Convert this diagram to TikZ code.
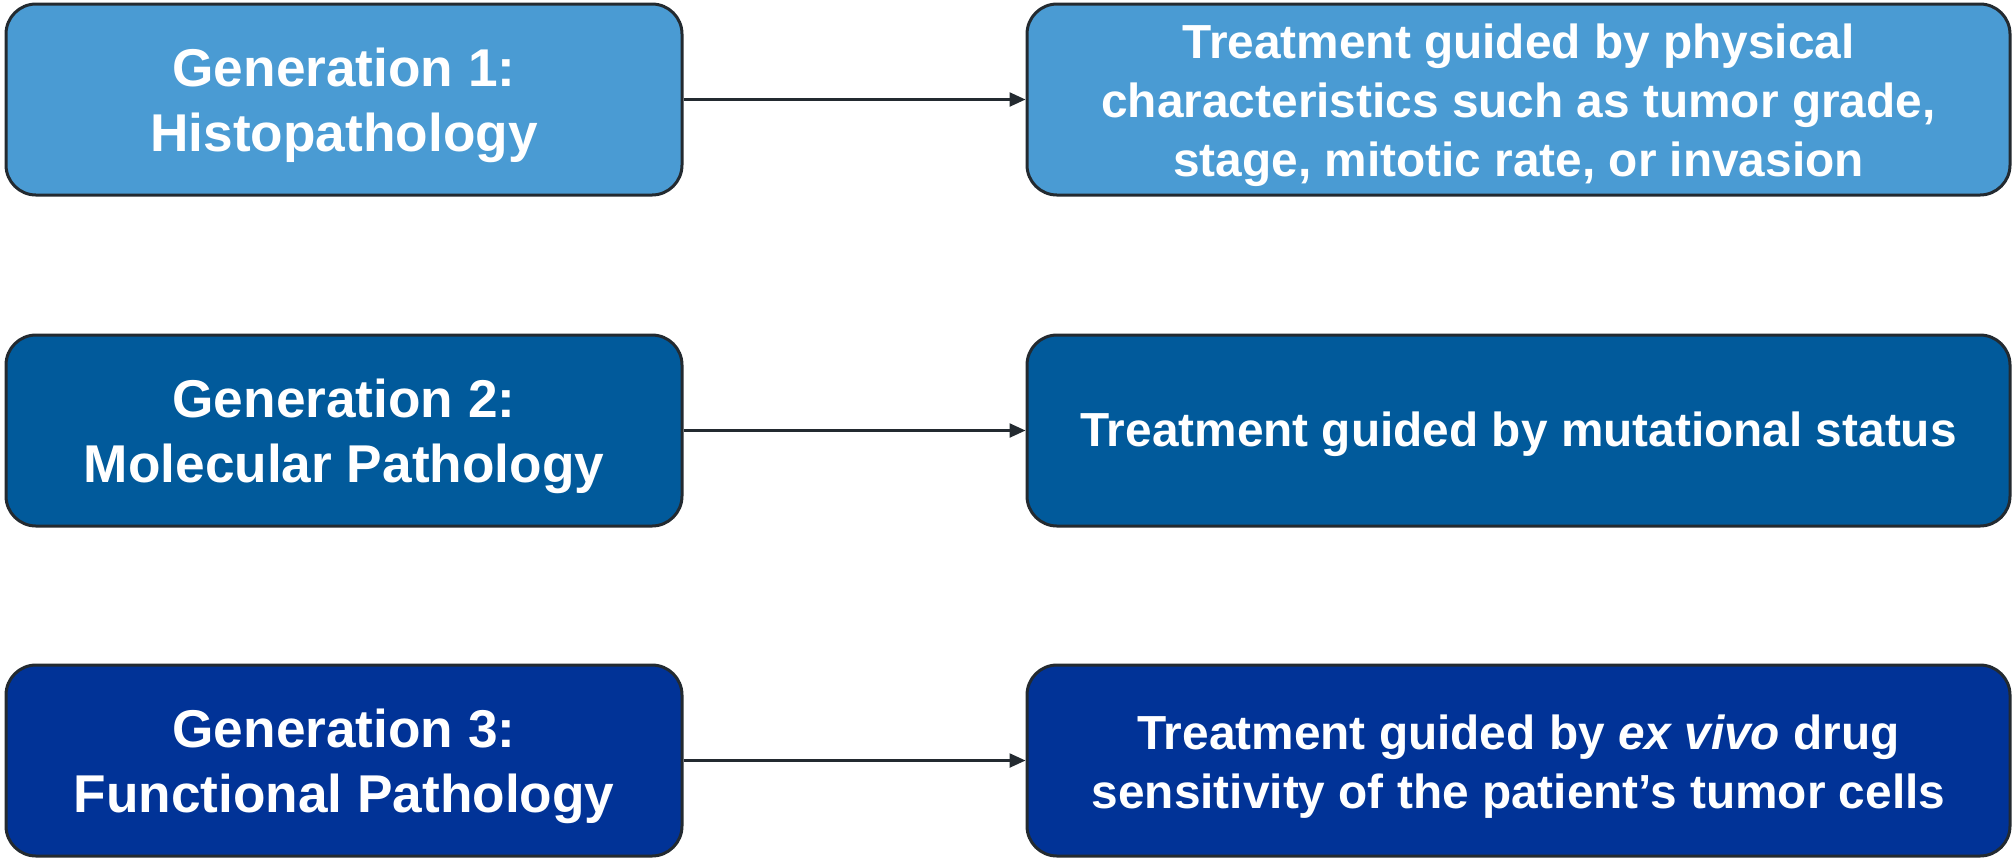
\documentclass[tikz,border=0pt]{standalone}
\usepackage{fontspec}
\setmainfont{Liberation Sans}
\usetikzlibrary{arrows.meta}
\definecolor{rowa}{RGB}{74,155,211}
\definecolor{rowb}{RGB}{1,90,155}
\definecolor{rowc}{RGB}{1,51,151}
\definecolor{edge}{RGB}{35,42,48}
\tikzset{
  box/.style={draw=edge, line width=1.5pt, rounded corners=15pt},
  leftbox/.style={box, minimum width=338pt, minimum height=95.5pt},
  rightbox/.style={box, minimum width=491.5pt, minimum height=95.5pt},
  lefttext/.style={text=white, align=center, font=\fontsize{26.6}{32.5}\selectfont\bfseries},
  righttext/.style={text=white, align=center, font=\fontsize{23.9}{29.4}\selectfont\bfseries},
  conn/.style={draw=edge, line width=1.2pt, -{Triangle[length=8pt,width=7pt]}}
}
\begin{document}
\begin{tikzpicture}[x=0.5pt,y=-0.5pt]
\useasboundingbox (0,0) rectangle (2013,859);
\node[leftbox, fill=rowa] (g1) at (344,99.5) {};
\node[rightbox, fill=rowa] (t1) at (1518.5,99.5) {};
\node[leftbox, fill=rowb] (g2) at (344,430.5) {};
\node[rightbox, fill=rowb] (t2) at (1518.5,430.5) {};
\node[leftbox, fill=rowc] (g3) at (344,760.5) {};
\node[rightbox, fill=rowc] (t3) at (1518.5,760.5) {};
\node[lefttext] (g1t) at ([yshift=-3pt]g1.center) {Generation 1:\\Histopathology};
\node[righttext] (t1t) at ([yshift=-3pt]t1.center) {Treatment guided by physical\\characteristics such as tumor grade,\\stage, mitotic rate, or invasion};
\node[lefttext] (g2t) at ([yshift=-3pt]g2.center) {Generation 2:\\Molecular Pathology};
\node[righttext] (t2t) at ([yshift=-2pt]t2.center) {Treatment guided by mutational status};
\node[lefttext] (g3t) at ([yshift=-3pt]g3.center) {Generation 3:\\Functional Pathology};
\node[righttext] (t3t) at ([yshift=-3pt]t3.center) {Treatment guided by \textit{ex vivo} drug\\sensitivity of the patient’s tumor cells};
\draw[conn] (g1.east) -- (t1.west);
\draw[conn] (g2.east) -- (t2.west);
\draw[conn] (g3.east) -- (t3.west);
\end{tikzpicture}
\end{document}
